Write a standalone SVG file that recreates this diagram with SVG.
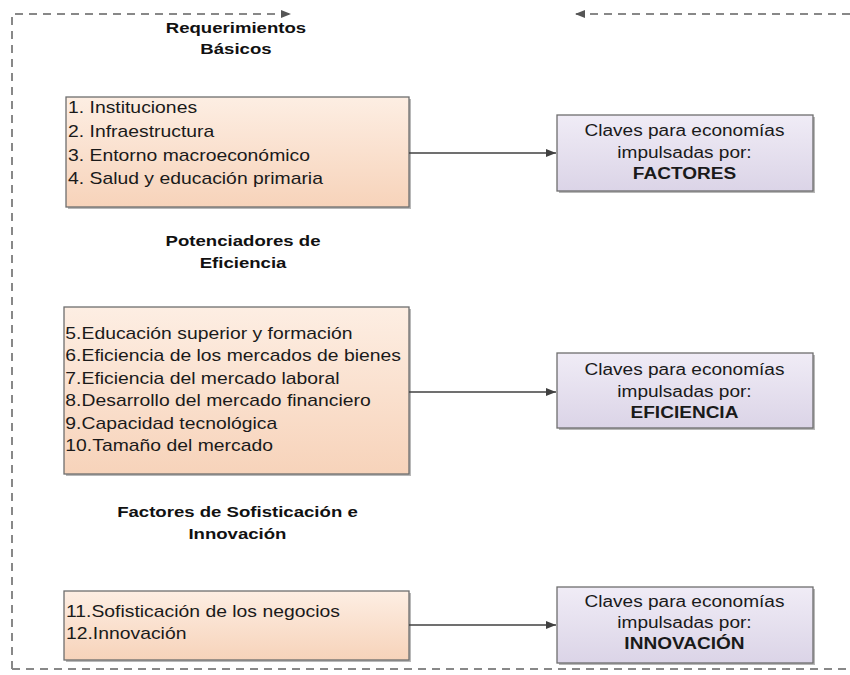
<svg xmlns="http://www.w3.org/2000/svg" width="850" height="675" viewBox="0 0 850 675">
<defs>
<linearGradient id="gOr" x1="0" y1="0" x2="0" y2="1"><stop offset="0" stop-color="#fdeee3"/><stop offset="1" stop-color="#f7d3ba"/></linearGradient>
<linearGradient id="gPu" x1="0" y1="0" x2="0" y2="1"><stop offset="0" stop-color="#f0ecf6"/><stop offset="1" stop-color="#dbd4e7"/></linearGradient>
<marker id="arr" markerWidth="10" markerHeight="8" refX="10" refY="4" orient="auto" markerUnits="userSpaceOnUse"><path d="M0,0 L10,4 L0,8 z" fill="#404040"/></marker>
<marker id="arrD" markerWidth="10" markerHeight="8" refX="10" refY="4" orient="auto" markerUnits="userSpaceOnUse"><path d="M0,0 L10,4 L0,8 z" fill="#555"/></marker>
<style>
.box{stroke:#6e6e6e;stroke-width:1.3}
.sh{fill:#b8b8b8}
.t{font-family:"Liberation Sans",Arial,sans-serif;font-size:16px;fill:#1a1a1a}
.h{font-family:"Liberation Sans",Arial,sans-serif;font-size:15px;font-weight:bold;fill:#111;text-anchor:middle}
.c{text-anchor:middle}
.b{font-weight:bold}
.con{stroke:#404040;stroke-width:1.3;fill:none}
.dash{stroke:#888;stroke-width:2;fill:none;stroke-dasharray:8,6}
</style>
</defs>
<g id="frame">
<path class="dash" d="M12,669 L12,14 L291,14" marker-end="url(#arrD)"/>
<path class="dash" d="M850,14 L575,14" marker-end="url(#arrD)"/>
<path class="dash" d="M12,669 L850,669"/>
</g>
<g id="h1" transform="scale(1.24,1)"><text class="h" x="190.3" y="33">Requerimientos</text><text class="h" x="190.3" y="54">Básicos</text></g>
<g id="h2" transform="scale(1.24,1)"><text class="h" x="196" y="246">Potenciadores de</text><text class="h" x="196" y="268">Eficiencia</text></g>
<g id="h3" transform="scale(1.24,1)"><text class="h" x="191.5" y="517">Factores de Sofisticación e</text><text class="h" x="191.5" y="539">Innovación</text></g>
<g id="box1">
<rect class="sh" x="68" y="99" width="343" height="110"/>
<rect class="box" x="66" y="97" width="343" height="110" fill="url(#gOr)"/>
<g transform="scale(1.21,1)">
<text class="t" x="56.2" y="113">1. Instituciones</text>
<text class="t" x="56.2" y="137">2. Infraestructura</text>
<text class="t" x="56.2" y="161">3. Entorno macroeconómico</text>
<text class="t" x="56.2" y="184">4. Salud y educación primaria</text>
</g>
</g>
<g id="key1">
<rect class="sh" x="559" y="117" width="256" height="76"/>
<rect class="box" x="557" y="115" width="256" height="76" fill="url(#gPu)"/>
<g transform="scale(1.19,1)">
<text class="t c" x="575.2" y="136">Claves para economías</text>
<text class="t c" x="575.2" y="158">impulsadas por:</text>
<text class="t c b" x="575.2" y="179">FACTORES</text>
</g>
</g>
<g id="box2">
<rect class="sh" x="66" y="309" width="345" height="167"/>
<rect class="box" x="64" y="307" width="345" height="167" fill="url(#gOr)"/>
<g transform="scale(1.21,1)">
<text class="t" x="54" y="339">5.Educación superior y formación</text>
<text class="t" x="54" y="361">6.Eficiencia de los mercados de bienes</text>
<text class="t" x="54" y="384">7.Eficiencia del mercado laboral</text>
<text class="t" x="54" y="406">8.Desarrollo del mercado financiero</text>
<text class="t" x="54" y="429">9.Capacidad tecnológica</text>
<text class="t" x="54" y="451">10.Tamaño del mercado</text>
</g>
</g>
<g id="key2">
<rect class="sh" x="559" y="355" width="256" height="75"/>
<rect class="box" x="557" y="353" width="256" height="75" fill="url(#gPu)"/>
<g transform="scale(1.19,1)">
<text class="t c" x="575.2" y="375">Claves para economías</text>
<text class="t c" x="575.2" y="397">impulsadas por:</text>
<text class="t c b" x="575.2" y="418">EFICIENCIA</text>
</g>
</g>
<g id="box3">
<rect class="sh" x="66" y="593" width="345" height="69"/>
<rect class="box" x="64" y="591" width="345" height="69" fill="url(#gOr)"/>
<g transform="scale(1.21,1)">
<text class="t" x="54.5" y="617">11.Sofisticación de los negocios</text>
<text class="t" x="54.5" y="639">12.Innovación</text>
</g>
</g>
<g id="key3">
<rect class="sh" x="559" y="589" width="256" height="76"/>
<rect class="box" x="557" y="587" width="256" height="76" fill="url(#gPu)"/>
<g transform="scale(1.19,1)">
<text class="t c" x="575.2" y="607">Claves para economías</text>
<text class="t c" x="575.2" y="628">impulsadas por:</text>
<text class="t c b" x="575.2" y="649">INNOVACIÓN</text>
</g>
</g>
<g id="connectors">
<line class="con" x1="409" y1="153" x2="556" y2="153" marker-end="url(#arr)"/>
<line class="con" x1="409" y1="392" x2="556" y2="392" marker-end="url(#arr)"/>
<line class="con" x1="409" y1="625" x2="556" y2="625" marker-end="url(#arr)"/>
</g>
</svg>
